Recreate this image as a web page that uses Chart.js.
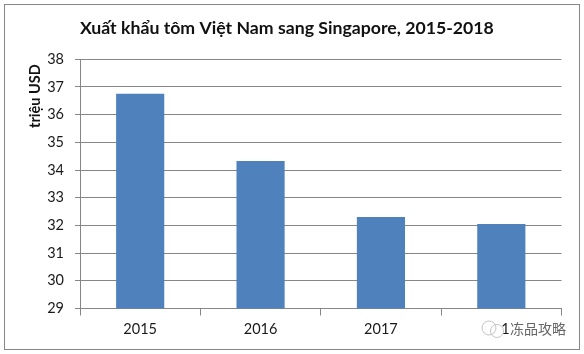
<!DOCTYPE html>
<html>
<head>
<meta charset="utf-8">
<script src="https://cdn.jsdelivr.net/npm/chart.js@4/dist/chart.umd.min.js"></script>
<style>
  html, body { margin: 0; padding: 0; background: #fff; }
  #wrap { position: relative; width: 584px; height: 354px; }
  #frame { position: absolute; left: 4px; top: 4px; width: 574px; height: 344px; border: 1px solid #868686; pointer-events: none; }
</style>
</head>
<body>
<div id="wrap">
  <canvas id="chart" width="584" height="354"></canvas>
  <div id="frame"></div>
</div>
<script>
const titleText = "Xuất khẩu tôm Việt Nam sang Singapore, 2015-2018";
const yAxisLabel = "triệu USD";
const years = ["2015", "2016", "2017", "2018"];
const exportValues = [36.75, 34.33, 32.3, 32.05];
const yMin = 29;
const yMax = 38;
const watermarkText = "冻品攻略";

const axisColor = "#868686";
const textColor = "#1a1a1a";
const fontFamily = "Lato, 'Noto Sans', sans-serif";

// y title sits near the top of the axis, not centred, so it is drawn by hand
const yTitle = {
  id: "yTitle",
  afterDraw(chart) {
    const ctx = chart.ctx;
    ctx.save();
    ctx.translate(35, 128);
    ctx.rotate(-Math.PI / 2);
    ctx.fillStyle = "#111";
    ctx.font = "bold 14.5px " + fontFamily;
    ctx.textBaseline = "middle";
    ctx.fillText(yAxisLabel, 0, 0);
    ctx.restore();
  }
};

// wechat watermark sits on top of the 2018 label, only the "1" is left visible
const watermark = {
  id: "watermark",
  afterDraw(chart) {
    const ctx = chart.ctx;
    ctx.save();
    ctx.fillStyle = "#fff";
    ctx.fillRect(481, 318, 20, 20);
    ctx.fillRect(509, 318, 60, 20);
    ctx.strokeStyle = "#c4c4c4";
    ctx.lineWidth = 1;
    ctx.beginPath();
    ctx.arc(489, 328, 7, 0, Math.PI * 2);
    ctx.stroke();
    ctx.beginPath();
    ctx.arc(497, 331, 6.5, 0, Math.PI * 2);
    ctx.stroke();
    ctx.fillStyle = "#666";
    ctx.font = "14px 'Noto Sans CJK SC'";
    ctx.textBaseline = "middle";
    ctx.fillText(watermarkText, 510, 329);
    ctx.restore();
  }
};

new Chart(document.getElementById("chart"), {
  type: "bar",
  data: {
    labels: years,
    datasets: [{
      data: exportValues,
      backgroundColor: "#4f81bd",
      borderWidth: 0,
      categoryPercentage: 1,
      barPercentage: 0.4
    }]
  },
  options: {
    responsive: false,
    animation: false,
    layout: { padding: { left: 0, right: 22.5, top: 0, bottom: 0 } },
    plugins: {
      legend: { display: false },
      tooltip: { enabled: false },
      title: {
        display: true,
        text: titleText,
        align: "start",
        fullSize: false,
        color: "#111",
        font: { family: fontFamily, size: 17.7, weight: "bold" },
        padding: { top: 18, bottom: 20 }
      }
    },
    scales: {
      x: {
        grid: { display: true, offset: true, drawOnChartArea: false, color: axisColor, tickLength: 7 },
        border: { color: axisColor },
        ticks: { color: textColor, font: { family: fontFamily, size: 14.5 }, padding: 5 },
        afterFit(scale) { scale.height = 45.5; }
      },
      y: {
        min: yMin,
        max: yMax,
        grid: { color: axisColor, tickLength: 5 },
        border: { color: axisColor },
        ticks: { stepSize: 1, color: textColor, font: { family: fontFamily, size: 14.5 }, padding: 11 },
        afterFit(scale) { scale.width = 80; }
      }
    }
  },
  plugins: [yTitle, watermark]
});
</script>
</body>
</html>
